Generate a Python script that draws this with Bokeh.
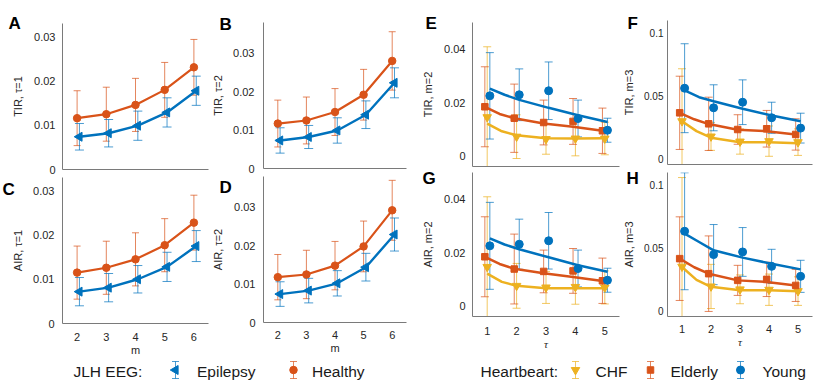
import numpy as np
from bokeh.plotting import figure
from bokeh.layouts import row, column
from bokeh.models import Range1d, FixedTicker, CustomJSTickFormatter, Label, Title
from bokeh.embed import file_html
from bokeh.resources import INLINE

BLUE = "#0072BD"
ORANGE = "#D95319"
YELLOW = "#EDB120"
FONT = "Liberation Sans"
TXT = "#262626"
AXC = "#7a7a7a"

# ---------------- JLH EEG data (panels A-D), x = embedding dimension m
m_vals = [2, 3, 4, 5, 6]

tir_tau1_healthy = [0.0116, 0.0125, 0.0146, 0.0180, 0.0231]
tir_tau1_healthy_err = [0.0062, 0.0061, 0.0060, 0.0062, 0.0063]
tir_tau1_epilepsy = [0.0074, 0.0082, 0.0099, 0.0129, 0.0178]
tir_tau1_epilepsy_err = [0.0030, 0.0031, 0.0033, 0.0033, 0.0033]

tir_tau2_healthy = [0.0117, 0.0125, 0.0147, 0.0192, 0.0280]
tir_tau2_healthy_err = [0.0061, 0.0061, 0.0061, 0.0066, 0.0076]
tir_tau2_epilepsy = [0.0073, 0.0082, 0.0099, 0.0140, 0.0223]
tir_tau2_epilepsy_err = [0.0033, 0.0030, 0.0033, 0.0036, 0.0039]

air_tau1_healthy = [0.0115, 0.0126, 0.0145, 0.0177, 0.0228]
air_tau1_healthy_err = [0.0060, 0.0060, 0.0060, 0.0060, 0.0062]
air_tau1_epilepsy = [0.0072, 0.0081, 0.0100, 0.0128, 0.0175]
air_tau1_epilepsy_err = [0.0032, 0.0032, 0.0031, 0.0033, 0.0035]

air_tau2_healthy = [0.0118, 0.0125, 0.0148, 0.0198, 0.0292]
air_tau2_healthy_err = [0.0059, 0.0063, 0.0063, 0.0066, 0.0078]
air_tau2_epilepsy = [0.0074, 0.0083, 0.0102, 0.0144, 0.0229]
air_tau2_epilepsy_err = [0.0032, 0.0032, 0.0033, 0.0036, 0.0043]

# ---------------- Heartbeat data (panels E-H), x = delay tau
tau_vals = [1, 2, 3, 4, 5]
fit_tau = [1, 1.5, 2, 3, 4, 5]

tir_m2_young = [0.0225, 0.0229, 0.0244, 0.0140, 0.0096]
tir_m2_young_err = [0.0162, 0.0097, 0.0108, 0.0069, 0.0045]
tir_m2_elderly = [0.0184, 0.0141, 0.0125, 0.0129, 0.0094]
tir_m2_elderly_err = [0.0150, 0.0128, 0.0084, 0.0086, 0.0085]
tir_m2_chf = [0.0145, 0.0072, 0.0063, 0.0065, 0.0065]
tir_m2_chf_err = [0.0264, 0.0082, 0.0057, 0.0065, 0.0061]
tir_m2_young_fit = [0.0252, 0.0229, 0.0210, 0.0180, 0.0152, 0.0127]
tir_m2_elderly_fit = [0.0184, 0.0157, 0.0141, 0.0121, 0.0109, 0.0094]
tir_m2_chf_fit = [0.0121, 0.0092, 0.0077, 0.0066, 0.0065, 0.0066]

tir_m3_young = [0.0564, 0.0409, 0.0453, 0.0330, 0.0248]
tir_m3_young_err = [0.0352, 0.0182, 0.0177, 0.0123, 0.0118]
tir_m3_elderly = [0.0369, 0.0282, 0.0237, 0.0243, 0.0198]
tir_m3_elderly_err = [0.0290, 0.0211, 0.0117, 0.0145, 0.0124]
tir_m3_chf = [0.0303, 0.0182, 0.0142, 0.0145, 0.0137]
tir_m3_chf_err = [0.0415, 0.0110, 0.0100, 0.0120, 0.0105]
tir_m3_young_fit = [0.0546, 0.0493, 0.0461, 0.0401, 0.0348, 0.0303]
tir_m3_elderly_fit = [0.0369, 0.0318, 0.0280, 0.0235, 0.0224, 0.0198]
tir_m3_chf_fit = [0.0303, 0.0224, 0.0172, 0.0137, 0.0137, 0.0129]

air_m2_young = [0.0225, 0.0231, 0.0244, 0.0140, 0.0096]
air_m2_young_err = [0.0163, 0.0094, 0.0106, 0.0069, 0.0045]
air_m2_elderly = [0.0184, 0.0138, 0.0129, 0.0131, 0.0094]
air_m2_elderly_err = [0.0150, 0.0131, 0.0080, 0.0084, 0.0085]
air_m2_chf = [0.0146, 0.0075, 0.0069, 0.0071, 0.0069]
air_m2_chf_err = [0.0263, 0.0084, 0.0060, 0.0065, 0.0062]
air_m2_young_fit = [0.0253, 0.0230, 0.0212, 0.0182, 0.0152, 0.0128]
air_m2_elderly_fit = [0.0184, 0.0157, 0.0139, 0.0122, 0.0108, 0.0093]
air_m2_chf_fit = [0.0121, 0.0090, 0.0075, 0.0066, 0.0066, 0.0066]

air_m3_young = [0.0635, 0.0450, 0.0471, 0.0357, 0.0278]
air_m3_young_err = [0.0463, 0.0238, 0.0193, 0.0135, 0.0127]
air_m3_elderly = [0.0418, 0.0299, 0.0246, 0.0254, 0.0206]
air_m3_elderly_err = [0.0331, 0.0299, 0.0119, 0.0136, 0.0127]
air_m3_chf = [0.0355, 0.0198, 0.0175, 0.0172, 0.0161]
air_m3_chf_err = [0.0705, 0.0175, 0.0114, 0.0124, 0.0113]
air_m3_young_fit = [0.0616, 0.0550, 0.0484, 0.0426, 0.0378, 0.0333]
air_m3_elderly_fit = [0.0418, 0.0350, 0.0299, 0.0246, 0.0233, 0.0206]
air_m3_chf_fit = [0.0352, 0.0250, 0.0195, 0.0168, 0.0168, 0.0160]

# ---------------- helpers
def panel(width, height, left, right, top, bottom, xr, yr, xticks, yticks, ylabel,
          letter, ldx, ldy, tick_font="11px", ystand=7, ylabstand=7,
          show_x=False, xlabel=None, xstand=8, serif_xlabel=False, title_mode=False):
    p = figure(width=width, height=height, min_border_left=left, min_border_right=right,
               min_border_top=top, min_border_bottom=bottom,
               x_range=Range1d(*xr), y_range=Range1d(*yr),
               output_backend="svg", toolbar_location=None, tools="", title=None)
    p.outline_line_color = None
    p.xgrid.visible = False
    p.ygrid.visible = False
    for ax in (p.xaxis[0], p.yaxis[0]):
        ax.axis_line_color = AXC
        ax.axis_line_width = 1
        ax.major_tick_line_color = None
        ax.minor_tick_line_color = None
        ax.major_tick_out = 0
        ax.major_tick_in = 0
        ax.minor_tick_out = 0
        ax.major_label_text_font = FONT
        ax.major_label_text_color = TXT
        ax.axis_label_text_font = FONT
        ax.axis_label_text_color = TXT
        ax.axis_label_text_font_style = "normal"
        ax.axis_label_text_font_size = "11px"
    yax = p.yaxis[0]
    yax.ticker = FixedTicker(ticks=yticks)
    yax.formatter = CustomJSTickFormatter(code="return String(+tick.toFixed(4));")
    yax.major_label_text_font_size = tick_font
    yax.major_label_standoff = ystand
    yax.axis_label = ylabel
    yax.axis_label_standoff = ylabstand
    xax = p.xaxis[0]
    if show_x:
        xax.ticker = FixedTicker(ticks=xticks)
        xax.major_label_text_font_size = "11px"
        xax.major_label_standoff = xstand
        xax.axis_label = xlabel
        xax.axis_label_standoff = 0
        if serif_xlabel:
            xax.axis_label_text_font = "Liberation Serif"
            xax.axis_label_text_font_style = "italic"
    else:
        xax.ticker = FixedTicker(ticks=[])
        xax.major_label_standoff = 0
    if title_mode:
        # letter as a title hanging down beside the frame (negative standoff keeps
        # the top border from growing)
        p.add_layout(Title(text=letter, align="left", offset=ldx, vertical_align="bottom",
                           standoff=ldy, text_font=FONT, text_font_style="bold",
                           text_font_size="17px", text_color="black"), "above")
    else:
        p.add_layout(Label(x=ldx, y=ldy, x_units="screen", y_units="screen", text=letter,
                           text_font=FONT, text_font_style="bold", text_font_size="17px",
                           text_color="black", text_baseline="alphabetic",
                           text_align="left"), "above")
    return p


def errorbars(p, xs, ys, errs, color, cap=8, alpha=0.7):
    up = [y + e for y, e in zip(ys, errs)]
    lo = [y - e for y, e in zip(ys, errs)]
    p.segment(x0=xs, y0=lo, x1=xs, y1=up, line_color=color, line_width=1, line_alpha=alpha)
    p.scatter(x=xs + xs, y=up + lo, marker="dash", size=cap, line_color=color,
              line_width=1, line_alpha=alpha)


def shift(vals, off):
    return [v + off for v in vals]


def eeg(p, healthy, healthy_err, epi, epi_err):
    xh = shift(m_vals, 0.0)
    xe = shift(m_vals, 0.08)
    errorbars(p, xh, healthy, healthy_err, ORANGE, cap=7)
    errorbars(p, xe, epi, epi_err, BLUE, cap=9)
    p.line(xh, healthy, line_color=ORANGE, line_width=2.2)
    p.scatter(xh, healthy, marker="circle", size=7.5, color=ORANGE)
    p.line(xe, epi, line_color=BLUE, line_width=2.4)
    p.scatter(xe, epi, marker="triangle", angle=np.pi / 2, size=9, color=BLUE)


def heart(p, chf, chf_err, eld, eld_err, yng, yng_err, chf_fit, eld_fit, yng_fit):
    xc = shift(tau_vals, 0.0)
    xe = shift(tau_vals, -0.08)
    xy = shift(tau_vals, 0.09)
    errorbars(p, xc, chf, chf_err, YELLOW, cap=8)
    errorbars(p, xe, eld, eld_err, ORANGE, cap=8)
    errorbars(p, xy, yng, yng_err, BLUE, cap=8)
    p.line(shift(fit_tau, 0.0), chf_fit, line_color=YELLOW, line_width=2.5)
    p.line(shift(fit_tau, -0.08), eld_fit, line_color=ORANGE, line_width=2.5)
    p.line(shift(fit_tau, 0.09), yng_fit, line_color=BLUE, line_width=2.5)
    p.scatter(xc, chf, marker="inverted_triangle", size=8.5, color=YELLOW)
    p.scatter(xe, eld, marker="square", size=6.5, color=ORANGE)
    p.scatter(xy, yng, marker="circle", size=8, color=BLUE)


EEG_X = (1.5, 6.5)
HB_X = (0.5, 5.5)
EEG_Y1 = (0, 0.033)
EEG_Y2 = (0, 0.038)
HB_Y2 = (-0.004, 0.05)
HB_Y3 = (-0.004, 0.11)
T1 = [0, 0.01, 0.02, 0.03]
T2 = [0, 0.02, 0.04]
T3 = [0, 0.05, 0.1]

# column 1 (width 209): A over C
pA = panel(209, 177, 62, 1, 23, 8, EEG_X, EEG_Y1, m_vals, T1, "TIR, \u03c4=1", "A", -54, 0)
eeg(pA, tir_tau1_healthy, tir_tau1_healthy_err, tir_tau1_epilepsy, tir_tau1_epilepsy_err)
pC = panel(209, 181, 62, 1, 0, 35, EEG_X, EEG_Y1, m_vals, T1, "AIR, \u03c4=1", "C", -60, -43,
           ystand=8, ylabstand=6, show_x=True, xlabel="m", xstand=9, title_mode=True)
eeg(pC, air_tau1_healthy, air_tau1_healthy_err, air_tau1_epilepsy, air_tau1_epilepsy_err)

# column 2 (width 201): B over D
pB = panel(201, 176, 51, 4, 22, 8, EEG_X, EEG_Y2, m_vals, T1, "TIR, \u03c4=2", "B", -44, -2,
           ystand=9, ylabstand=6)
eeg(pB, tir_tau2_healthy, tir_tau2_healthy_err, tir_tau2_epilepsy, tir_tau2_epilepsy_err)
pD = panel(201, 182, 51, 4, 0, 36, EEG_X, EEG_Y2, m_vals, T1, "AIR, \u03c4=2", "D", -44, -41,
           ystand=8, ylabstand=7, show_x=True, xlabel="m", xstand=8, title_mode=True)
eeg(pD, air_tau2_healthy, air_tau2_healthy_err, air_tau2_epilepsy, air_tau2_epilepsy_err)

# column 3 (width 210): E over G
pE = panel(210, 167, 62, 1, 22, 1, HB_X, HB_Y2, tau_vals, T2, "TIR, m=2", "E", -47, -1)
heart(pE, tir_m2_chf, tir_m2_chf_err, tir_m2_elderly, tir_m2_elderly_err,
      tir_m2_young, tir_m2_young_err, tir_m2_chf_fit, tir_m2_elderly_fit, tir_m2_young_fit)
pG = panel(210, 191, 62, 1, 5, 42, HB_X, HB_Y2, tau_vals, T2, "AIR, m=2", "G", -50, -30,
           show_x=True, xlabel="\u03c4", xstand=10, serif_xlabel=True, title_mode=True)
heart(pG, air_m2_chf, air_m2_chf_err, air_m2_elderly, air_m2_elderly_err,
      air_m2_young, air_m2_young_err, air_m2_chf_fit, air_m2_elderly_fit, air_m2_young_fit)

# column 4 (width 196): F over H
pF = panel(196, 167, 43, 4, 20, 3, HB_X, HB_Y3, tau_vals, T3, "TIR, m=3", "F", -40, -3,
           tick_font="10px", ystand=4, ylabstand=6)
heart(pF, tir_m3_chf, tir_m3_chf_err, tir_m3_elderly, tir_m3_elderly_err,
      tir_m3_young, tir_m3_young_err, tir_m3_chf_fit, tir_m3_elderly_fit, tir_m3_young_fit)
pH = panel(196, 191, 43, 4, 5, 42, HB_X, HB_Y3, tau_vals, T3, "AIR, m=3", "H", -41, -30,
           tick_font="10px", ystand=4, ylabstand=6, show_x=True, xlabel="\u03c4", xstand=8,
           serif_xlabel=True, title_mode=True)
heart(pH, air_m3_chf, air_m3_chf_err, air_m3_elderly, air_m3_elderly_err,
      air_m3_young, air_m3_young_err, air_m3_chf_fit, air_m3_elderly_fit, air_m3_young_fit)

# ---------------- legend strip (pixel coordinates)
LW, LH = 816, 23
lg = figure(width=LW, height=LH, min_border_left=0, min_border_right=0, min_border_top=0,
            min_border_bottom=0, x_range=Range1d(0, LW), y_range=Range1d(0, LH),
            x_axis_location=None, y_axis_location=None, output_backend="svg",
            toolbar_location=None, tools="", title=None)
lg.outline_line_color = None
lg.xgrid.visible = False
lg.ygrid.visible = False

legend_groups = [
    ("JLH EEG:", 73, [("Epilepsy", BLUE, "triangle", np.pi / 2, 9, 175, 196.5),
                      ("Healthy", ORANGE, "circle", 0, 7.5, 293, 311.5)]),
    ("Heartbeart:", 480, [("CHF", YELLOW, "inverted_triangle", 0, 8.5, 575, 595),
                          ("Elderly", ORANGE, "square", 0, 6.5, 650, 670),
                          ("Young", BLUE, "circle", 0, 8, 740, 762)]),
]
KY, KH, TY = 11.5, 8.5, 10.5
for title, tx, items in legend_groups:
    lg.add_layout(Label(x=tx, y=TY, text=title, text_font=FONT, text_font_size="15.5px",
                        text_color="#1a1a1a", text_baseline="middle", text_align="left"))
    for lab, col, mk, ang, sz, kx, lx in items:
        lg.segment(x0=[kx], y0=[KY - KH], x1=[kx], y1=[KY + KH], line_color=col,
                   line_width=1, line_alpha=0.7)
        lg.scatter(x=[kx, kx], y=[KY - KH, KY + KH], marker="dash", size=7,
                   line_color=col, line_alpha=0.7)
        lg.scatter(x=[kx], y=[KY], marker=mk, angle=ang, size=sz, color=col)
        lg.add_layout(Label(x=lx, y=TY, text=lab, text_font=FONT, text_font_size="15.5px",
                            text_color="#1a1a1a", text_baseline="middle", text_align="left"))

layout = column(row(column(pA, pC), column(pB, pD), column(pE, pG), column(pF, pH)), lg)

open("out.html", "w").write(file_html(layout, INLINE))
